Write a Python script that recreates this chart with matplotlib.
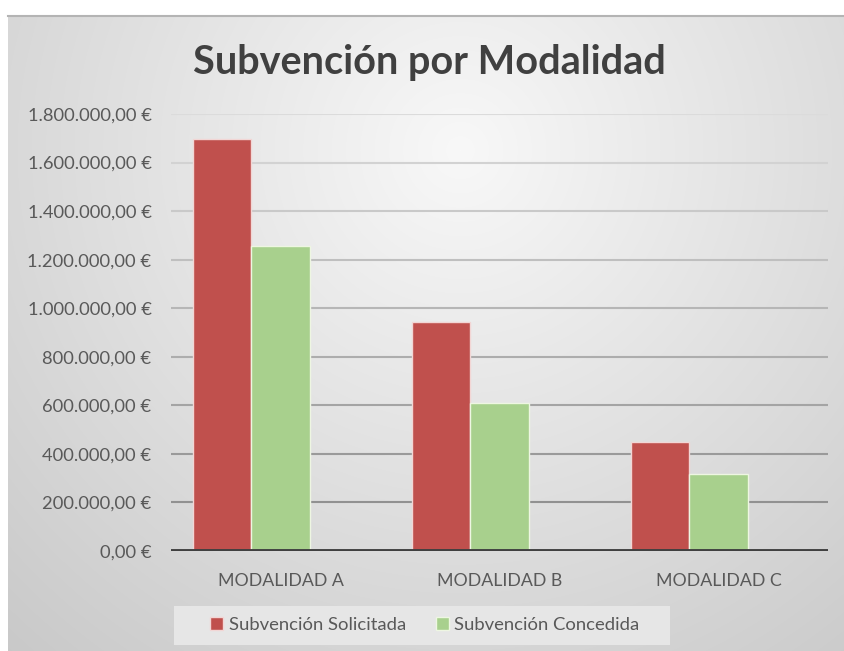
import matplotlib
matplotlib.use("Agg")
import matplotlib.pyplot as plt
import numpy as np
from matplotlib.lines import Line2D
from matplotlib.patches import Rectangle, Patch

# ---- data ----
categories = ["MODALIDAD A", "MODALIDAD B", "MODALIDAD C"]
solicitada = [1697000, 945000, 450000]
concedida = [1255000, 610000, 318000]
series_names = ["Subvención Solicitada", "Subvención Concedida"]
y_ticks = [0, 200000, 400000, 600000, 800000, 1000000, 1200000, 1400000, 1600000, 1800000]
title = "Subvención por Modalidad"

FONT = ["Lato", "DejaVu Sans"]
plt.rcParams["font.family"] = FONT

W, H = 845, 651
fig = plt.figure(figsize=(W / 100, H / 100), dpi=100)
fig.patch.set_facecolor("white")

# ---- chart-area background (radial gradient) ----
left_px, top_px = 8, 15
bg = fig.add_axes([left_px / W, 0, 1 - left_px / W, (H - top_px) / H], zorder=0)
ny, nx = H - top_px, W - left_px
yy, xx = np.mgrid[0:ny, 0:nx]
cx, cy = 460 - left_px, 150 - top_px
d = np.sqrt(((xx - cx) / 1.0) ** 2 + ((yy - cy) / 1.0) ** 2)
v = np.clip(248 - 0.07 * d, 150, 255) / 255.0
img = np.dstack([v, v, v])
bg.imshow(img, extent=[0, 1, 0, 1], aspect="auto", origin="upper", interpolation="bilinear")
bg.set_xlim(0, 1)
bg.set_ylim(0, 1)
bg.axis("off")
fig.add_artist(Line2D([left_px / W, 1], [(H - top_px - 0.5) / H] * 2,
                      color="#b4b4b4", lw=1.5, zorder=1))

# ---- plot axes ----
ax_l, ax_r, ax_b, ax_t = 171, 828, 551, 114
ax = fig.add_axes([ax_l / W, (H - ax_b) / H, (ax_r - ax_l) / W, (ax_b - ax_t) / H], zorder=2)
ax.patch.set_alpha(0)
for s in ax.spines.values():
    s.set_visible(False)

x = np.arange(len(categories))
w = 0.265

# gridlines with colour shading from light (top) to darker (bottom)
top_c = np.array([0xdb, 0xdb, 0xdb]) / 255
bot_c = np.array([0x88, 0x88, 0x88]) / 255
ymax = y_ticks[-1]
for t in y_ticks[1:]:
    f = t / ymax
    c = bot_c * (1 - f) + top_c * f
    ax.axhline(t, color=c, lw=1.5, zorder=0.5)

ax.bar(x - w, solicitada, w, color="#C0504D", edgecolor="#F2D6D5", lw=1.0, zorder=2)
ax.bar(x, concedida, w, color="#A8D08D", edgecolor="#EEF6E2", lw=1.0, zorder=2)
ax.axhline(0, color="#404040", lw=2.8, zorder=3)

ax.set_xlim(-0.5, len(categories) - 0.5)
ax.set_ylim(0, ymax)
ax.set_yticks(y_ticks)


def eur(vv):
    s = f"{vv:,.2f}".replace(",", "X").replace(".", ",").replace("X", ".")
    return s + " €"


ax.set_yticklabels([eur(t) for t in y_ticks])
ax.set_xticks(x)
ax.set_xticklabels(categories)
ax.tick_params(axis="y", length=0, pad=14, labelsize=13.2, labelcolor="#595959")
ax.tick_params(axis="x", length=0, pad=16, labelsize=12.8, labelcolor="#595959")

# ---- title ----
fig.text(429 / W, 1 - 74 / H, title, ha="center", va="baseline", fontsize=28.5,
         fontweight="bold", color="#404040")

# ---- legend ----
fig.add_artist(Rectangle((174 / W, 1 - 645 / H), (670 - 174) / W, (645 - 606) / H,
                         transform=fig.transFigure, facecolor="#e6e6e6",
                         edgecolor="none", zorder=3))
handles = [Patch(facecolor="#C0504D", edgecolor="#F2D6D5"),
           Patch(facecolor="#A8D08D", edgecolor="#EEF6E2")]
leg = fig.legend(handles, series_names, loc="center", ncol=2,
                 bbox_to_anchor=(425 / W, 1 - 625 / H), frameon=False,
                 fontsize=13.3, handlelength=0.7, handleheight=0.7,
                 handletextpad=0.3, columnspacing=1.6, labelcolor="#595959")
leg.set_zorder(4)

fig.savefig("out.png", dpi=100)
